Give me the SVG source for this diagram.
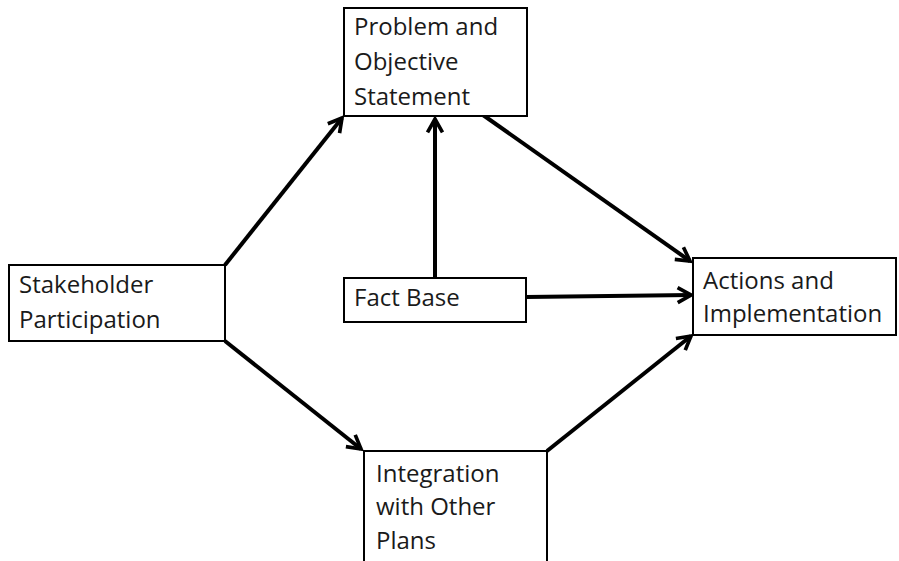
<svg xmlns="http://www.w3.org/2000/svg" width="899" height="561" viewBox="0 0 899 561">
<style>
.box{fill:#fff;stroke:#000;stroke-width:2}
.t{font-family:"Open Sans","Liberation Sans",sans-serif;font-size:24px;fill:#1a1a1a}
.c{stroke:#000;stroke-width:4;fill:none;marker-end:url(#ah)}
</style>
<defs>
<marker id="ah" viewBox="0 0 12 12" refX="10" refY="6" markerWidth="5" markerHeight="5" markerUnits="strokeWidth" orient="auto">
<polyline points="2,1.5 10,6 2,10.5" fill="none" stroke="#000" stroke-width="2.2"/>
</marker>
</defs>
<rect width="899" height="561" fill="#fff"/>
<g id="connectors">
<line class="c" x1="225" y1="265" x2="342" y2="118"/>
<line class="c" x1="483" y1="115" x2="690" y2="261"/>
<line class="c" x1="435" y1="278" x2="435" y2="119"/>
<line class="c" x1="526" y1="297" x2="691" y2="295"/>
<line class="c" x1="225" y1="341" x2="361" y2="449"/>
<line class="c" x1="547" y1="451" x2="691" y2="336"/>
</g>
<g id="problem">
<rect class="box" x="344" y="8" width="183" height="108"/>
<text class="t" x="354" y="35">Problem and</text>
<text class="t" x="354" y="70">Objective</text>
<text class="t" x="354" y="105">Statement</text>
</g>
<g id="stakeholder">
<rect class="box" x="9" y="265" width="216" height="76"/>
<text class="t" x="19" y="293">Stakeholder</text>
<text class="t" x="19" y="328">Participation</text>
</g>
<g id="factbase">
<rect class="box" x="344" y="278" width="182" height="44"/>
<text class="t" x="354" y="306">Fact Base</text>
</g>
<g id="actions">
<rect class="box" x="693" y="258" width="203" height="77"/>
<text class="t" x="703" y="289">Actions and</text>
<text class="t" x="703" y="322">Implementation</text>
</g>
<g id="integration">
<rect class="box" x="364" y="451" width="183" height="120"/>
<text class="t" x="376" y="482">Integration</text>
<text class="t" x="376" y="515">with Other</text>
<text class="t" x="376" y="549">Plans</text>
</g>
</svg>
